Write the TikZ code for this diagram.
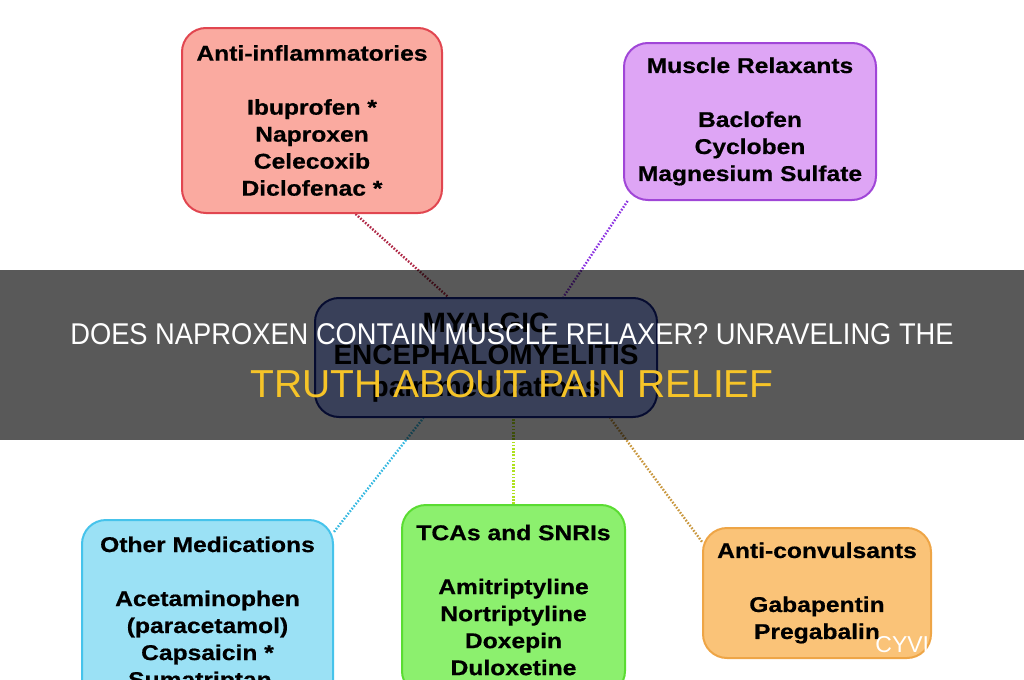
\documentclass[tikz,border=0pt]{standalone}
\usepackage{fontspec}
\setmainfont{Liberation Sans}
\newfontfamily\boxfont{Liberation Sans}[FakeStretch=1.15, BoldFeatures={FakeBold=0.6}]
\newfontfamily\bannerfont{Liberation Sans}[FakeStretch=0.91]
\usetikzlibrary{backgrounds}

\definecolor{antifill}{RGB}{250,170,160}
\definecolor{antiline}{RGB}{225,70,80}
\definecolor{antilink}{RGB}{175,40,70}
\definecolor{muscfill}{RGB}{222,165,245}
\definecolor{muscline}{RGB}{160,70,215}
\definecolor{musclink}{RGB}{140,50,225}
\definecolor{hubfill}{RGB}{165,185,255}
\definecolor{hubline}{RGB}{20,35,140}
\definecolor{othfill}{RGB}{155,225,245}
\definecolor{othline}{RGB}{70,195,235}
\definecolor{othlink}{RGB}{55,185,225}
\definecolor{tcafill}{RGB}{140,240,110}
\definecolor{tcaline}{RGB}{90,220,50}
\definecolor{tcalink}{RGB}{175,225,30}
\definecolor{convfill}{RGB}{250,195,120}
\definecolor{convline}{RGB}{238,165,70}
\definecolor{convlink}{RGB}{200,150,60}
\definecolor{titleyellow}{RGB}{246,196,40}

\begin{document}
\begin{tikzpicture}[
  x=0.5pt, y=-0.5pt,
  box/.style={rectangle, draw, line width=1pt, rounded corners=12pt,
              inner sep=0pt, align=center,
              font=\boxfont\bfseries\fontsize{10.7}{13.5}\selectfont},
  hub/.style={box, font=\bfseries\fontsize{14}{16}\selectfont},
  link/.style={line width=1.2pt, dash pattern=on 0.8pt off 0.8pt},
  headline/.style={text=white, inner sep=0pt}
]
\useasboundingbox (0,0) rectangle (1024,680);
\clip (0,0) rectangle (1024,680);

% centre and the five groups
\node[hub, fill=hubfill, draw=hubline, minimum width=171pt, minimum height=59.5pt]
  (hub) at (486,357.5) {MYALGIC\\ ENCEPHALOMYELITIS\\ pain medications};

\node[box, fill=antifill, draw=antiline, minimum width=130pt, minimum height=92.5pt]
  (anti) at (312,120.5) {Anti-inflammatories\\[13.5pt] Ibuprofen *\\ Naproxen\\ Celecoxib\\ Diclofenac *};
\node[box, fill=muscfill, draw=muscline, minimum width=126pt, minimum height=78.5pt]
  (musc) at (750,121.5) {Muscle Relaxants\\[13.5pt] Baclofen\\ Cycloben\\ Magnesium Sulfate};
\node[box, fill=othfill, draw=othline, minimum width=125.5pt, minimum height=94pt]
  (other) at (207.5,614) {Other Medications\\[13.5pt] Acetaminophen\\ (paracetamol)\\ Capsaicin *\\ Sumatriptan -};
\node[box, fill=tcafill, draw=tcaline, minimum width=111.5pt, minimum height=95pt]
  (tca) at (513.5,600) {TCAs and SNRIs\\[13.5pt] Amitriptyline\\ Nortriptyline\\ Doxepin\\ Duloxetine};
\node[box, fill=convfill, draw=convline, minimum width=114pt, minimum height=65pt]
  (conv) at (817,593) {Anti-convulsants\\[13.5pt] Gabapentin\\ Pregabalin};

\begin{scope}[on background layer]
  \draw[link, draw=antilink] (anti.-65.6) -- (hub.122.6);
  \draw[link, draw=musclink] (musc.213.1) -- (hub.38.06);
  \draw[link, draw=othlink]  (other.33.2) -- (hub.224.3);
  \draw[link, draw=tcalink]  (tca.north) -- (tca.north |- hub.south);
  \draw[link, draw=convlink] (conv.156.3) -- (hub.-26.8);
\end{scope}

% title banner
\fill[black, opacity=0.65] (0,270) rectangle (1024,440);
\node[headline, font=\bannerfont\fontsize{15}{18}\selectfont]
  (head1) at (512,334) {DOES NAPROXEN CONTAIN MUSCLE RELAXER? UNRAVELING THE};
\node[headline, text=titleyellow, font=\fontsize{19.5}{22}\selectfont]
  (head2) at (512,384) {TRUTH ABOUT PAIN RELIEF};

\node[headline, anchor=base west, font=\fontsize{11.5}{12}\selectfont]
  (mark) at (875,652) {CYVI};
\end{tikzpicture}
\end{document}
